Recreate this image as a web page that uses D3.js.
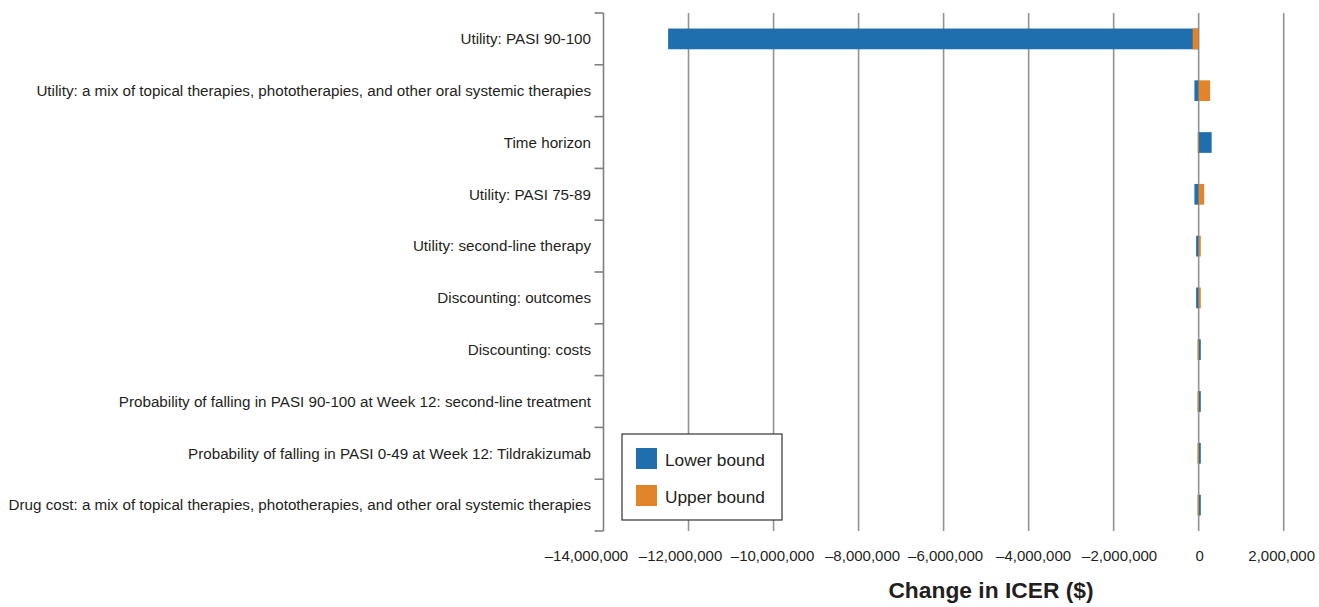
<!DOCTYPE html>
<html>
<head>
<meta charset="utf-8">
<script src="https://cdn.jsdelivr.net/npm/d3@7"></script>
<style>
  body { margin: 0; background: #fff; }
  text { font-family: "Liberation Sans", Arial, sans-serif; fill: #231f20; }
</style>
</head>
<body>
<div id="chart"></div>
<script>
// Size of the page
const width = 1319;
const height = 607;

// Parameters (top to bottom) and the change in ICER at each bound
const parameters = [
    "Utility: PASI 90-100",
    "Utility: a mix of topical therapies, phototherapies, and other oral systemic therapies",
    "Time horizon",
    "Utility: PASI 75-89",
    "Utility: second-line therapy",
    "Discounting: outcomes",
    "Discounting: costs",
    "Probability of falling in PASI 90-100 at Week 12: second-line treatment",
    "Probability of falling in PASI 0-49 at Week 12: Tildrakizumab",
    "Drug cost: a mix of topical therapies, phototherapies, and other oral systemic therapies"
];
const lowerBound = [-12480000, -100000, 305000, -100000, -60000, -60000, 50000, 50000, 50000, 50000];
const upperBound = [-140000, 270000, -25000, 130000, 50000, 50000, -30000, -30000, -30000, -30000];
const xTicks = [-14000000, -12000000, -10000000, -8000000, -6000000, -4000000, -2000000, 0, 2000000];
const seriesNames = ["Lower bound", "Upper bound"];

const colors = { lower: "#1f6fae", upper: "#e2852a" };

// small horizontal nudges of the tick labels so they don't collide (like the original layout)
const tickNudge = [-17, -8, -1, 4, 2, 5, 6, 1, -2];

const svg = d3.select("#chart")
    .append("svg")
    .attr("width", width)
    .attr("height", height);

const plot = { left: 603.5, right: 1283.7, top: 13, bottom: 531 };

const x = d3.scaleLinear().domain([-14000000, 2000000]).range([plot.left, plot.right]);
const y = d3.scaleBand().domain(parameters).range([plot.top, plot.bottom]).paddingInner(0.6).paddingOuter(0.3);
const yBound = d3.scaleLinear().domain([0, parameters.length]).range([plot.top, plot.bottom]);

// vertical gridlines
svg.append("g")
    .selectAll("line")
    .data(xTicks.filter(d => d > -14000000))
    .enter()
    .append("line")
    .attr("x1", d => x(d))
    .attr("x2", d => x(d))
    .attr("y1", plot.top)
    .attr("y2", plot.bottom)
    .attr("stroke", "#939393")
    .attr("stroke-width", 1.6);

// x tick labels
const fmt = d => d < 0 ? "\u2013" + d3.format(",")(-d) : d3.format(",")(d);
svg.append("g")
    .selectAll("text")
    .data(xTicks)
    .enter()
    .append("text")
    .attr("x", (d, i) => x(d) + tickNudge[i])
    .attr("y", 561)
    .attr("text-anchor", "middle")
    .style("font-size", "15px")
    .text(fmt);

// bars: lower bound first, upper bound drawn on top
const rows = parameters.map((p, i) => ({ name: p, lower: lowerBound[i], upper: upperBound[i] }));

svg.append("g")
    .selectAll("rect")
    .data(rows)
    .enter()
    .append("rect")
    .attr("x", d => x(Math.min(0, d.lower)))
    .attr("width", d => Math.abs(x(d.lower) - x(0)))
    .attr("y", d => y(d.name))
    .attr("height", y.bandwidth())
    .attr("fill", colors.lower);

svg.append("g")
    .selectAll("rect")
    .data(rows)
    .enter()
    .append("rect")
    .attr("x", d => x(Math.min(0, d.upper)))
    .attr("width", d => Math.abs(x(d.upper) - x(0)))
    .attr("y", d => y(d.name))
    .attr("height", y.bandwidth())
    .attr("fill", colors.upper);

// y axis line with ticks at category boundaries
svg.append("line")
    .attr("x1", plot.left)
    .attr("x2", plot.left)
    .attr("y1", plot.top)
    .attr("y2", plot.bottom)
    .attr("stroke", "#808080")
    .attr("stroke-width", 1.6);

svg.append("g")
    .selectAll("line")
    .data(d3.range(parameters.length + 1))
    .enter()
    .append("line")
    .attr("x1", plot.left - 9)
    .attr("x2", plot.left)
    .attr("y1", d => yBound(d))
    .attr("y2", d => yBound(d))
    .attr("stroke", "#808080")
    .attr("stroke-width", 1.6);

// category labels
svg.append("g")
    .selectAll("text")
    .data(parameters)
    .enter()
    .append("text")
    .attr("x", 591)
    .attr("y", d => y(d) + y.bandwidth() / 2)
    .attr("dy", "0.35em")
    .attr("text-anchor", "end")
    .style("font-size", "15.2px")
    .text(d => d);

// axis title
svg.append("text")
    .attr("x", 991)
    .attr("y", 598)
    .attr("text-anchor", "middle")
    .style("font-size", "22.8px")
    .style("font-weight", "bold")
    .text("Change in ICER ($)");

// legend
const legend = svg.append("g").attr("transform", "translate(622,434)");
legend.append("rect")
    .attr("width", 160)
    .attr("height", 86)
    .attr("fill", "#fff")
    .attr("stroke", "#333")
    .attr("stroke-width", 1.2);

const legendColors = [colors.lower, colors.upper];
seriesNames.forEach((name, i) => {
    legend.append("rect")
        .attr("x", 14)
        .attr("y", 14 + i * 37)
        .attr("width", 21)
        .attr("height", 21)
        .attr("fill", legendColors[i]);
    legend.append("text")
        .attr("x", 43)
        .attr("y", 26 + i * 37)
        .attr("dy", "0.35em")
        .style("font-size", "17.3px")
        .text(name);
});
</script>
</body>
</html>
